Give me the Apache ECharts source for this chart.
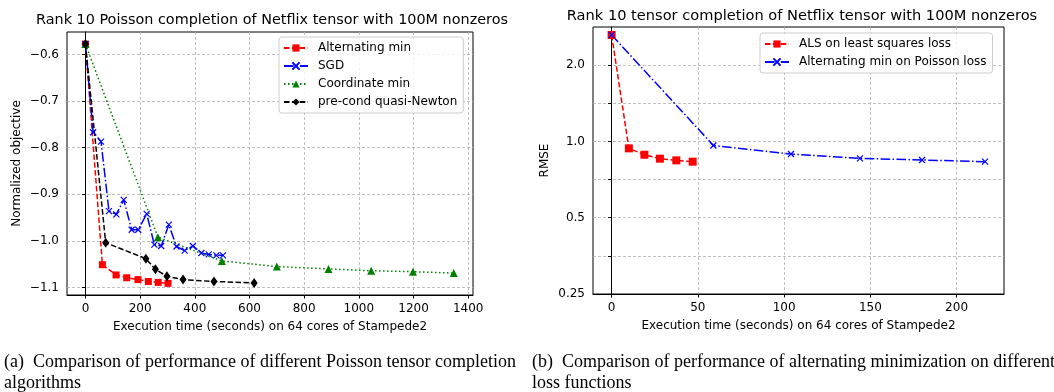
<!DOCTYPE html>
<html>
<head>
<meta charset="utf-8">
<script src="https://cdn.jsdelivr.net/npm/echarts@6/dist/echarts.min.js"></script>
<style>
  html, body { margin: 0; padding: 0; background: #fff; }
  #chart { width: 1054px; height: 392px; }
</style>
</head>
<body>
<div id="chart"></div>
<script>
// (a) Poisson completion, normalized objective vs time
var altMinX = [0, 62, 112, 151, 192, 230, 266, 302];
var altMinY = [-0.578, -1.051, -1.073, -1.079, -1.083, -1.087, -1.089, -1.091];
var sgdX = [0, 28, 57, 86, 113, 140, 169, 193, 224, 252, 277, 305, 333, 363, 393, 424, 451, 479, 503];
var sgdY = [-0.578, -0.767, -0.787, -0.936, -0.943, -0.912, -0.976, -0.976, -0.942, -1.008, -1.011, -0.965, -1.012, -1.021, -1.011, -1.026, -1.029, -1.031, -1.031];
var cdX = [0, 265, 499, 700, 889, 1045, 1198, 1347];
var cdY = [-0.578, -0.992, -1.043, -1.055, -1.060, -1.064, -1.066, -1.069];
var pqnX = [0, 74, 221, 256, 298, 357, 470, 617];
var pqnY = [-0.578, -1.004, -1.038, -1.061, -1.076, -1.083, -1.087, -1.090];

// (b) RMSE vs time
var alsX = [0, 10, 19, 28, 37.5, 47];
var alsY = [2.63, 0.939, 0.886, 0.855, 0.842, 0.832];
var poisX = [0, 59, 104, 144, 180, 216.5];
var poisY = [2.63, 0.964, 0.892, 0.857, 0.845, 0.832];

function pairs(xs, ys) {
  return xs.map(function (x, i) { return [x, ys[i]]; });
}

var FONT = "DejaVu Sans";
var crossSym = "path://M0,0L10,10M10,0L0,10";
var dashed = [5.5, 2.4];
var dashDot = [9.6, 2.4, 1.5, 2.4];
var dotted = [1.5, 2.5];

function axisBase() {
  return {
    axisLine: { show: true, lineStyle: { color: "#000", width: 1 } },
    axisTick: { show: true, length: 3.5, lineStyle: { color: "#000", width: 1 } },
    axisLabel: { color: "#000", fontFamily: FONT, fontSize: 12, showMinLabel: false, showMaxLabel: false,
      formatter: function (v) { return String(Math.round(v * 1000) / 1000); } },
    splitLine: { show: true, showMinLine: false, showMaxLine: false, lineStyle: { color: "#b0b0b0", type: [3, 2], width: 0.8 } },
    nameTextStyle: { color: "#000", fontFamily: FONT, fontSize: 12 },
    nameLocation: "middle"
  };
}

var xA = Object.assign(axisBase(), {
  type: "value", gridIndex: 0, min: -67.5, max: 1417.5, splitNumber: 7,
  name: "Execution time (seconds) on 64 cores of Stampede2", nameGap: 26
});
var yA = Object.assign(axisBase(), {
  type: "value", gridIndex: 0, min: -1.116, max: -0.552, splitNumber: 5,
  name: "Normalized objective", nameGap: 44
});
yA.axisLabel = Object.assign({}, yA.axisLabel, {
  formatter: function (v) { return v.toFixed(1).replace("-", "\u2212"); }
});
var xB = Object.assign(axisBase(), {
  type: "value", gridIndex: 1, min: -10.8, max: 227.5, splitNumber: 5,
  name: "Execution time (seconds) on 64 cores of Stampede2", nameGap: 26
});
var yB = Object.assign(axisBase(), {
  type: "log", gridIndex: 1, logBase: Math.SQRT2, min: 0.25, max: 2 * Math.SQRT2, splitNumber: 7,
  name: "RMSE", nameGap: 42
});
yB.axisLabel = Object.assign({}, yB.axisLabel, {
  showMinLabel: true,
  formatter: function (v) {
    var l = Math.log2(v);
    if (Math.abs(l - Math.round(l)) > 1e-6) return "";
    var r = Math.pow(2, Math.round(l));
    return r >= 0.5 ? r.toFixed(1) : r.toFixed(2);
  }
});

var legendText = { color: "#000", fontFamily: FONT, fontSize: 12, padding: [0, 0, 0, 5], lineHeight: 14 };

var myChart = echarts.init(document.getElementById("chart"), null, { renderer: "canvas" });
var option = {
  animation: false,
  backgroundColor: "#fff",
  title: [
    { text: "Rank 10 Poisson completion of Netflix tensor with 100M nonzeros", left: 267, top: 8, textAlign: "center",
      textStyle: { fontFamily: FONT, fontSize: 14.4, fontWeight: "normal", color: "#000" } },
    { text: "Rank 10 tensor completion of Netflix tensor with 100M nonzeros", left: 797, top: 4, textAlign: "center",
      textStyle: { fontFamily: FONT, fontSize: 14.6, fontWeight: "normal", color: "#000" } }
  ],
  grid: [
    { left: 67, top: 32, width: 406, height: 263, show: true, borderColor: "#000", borderWidth: 1, backgroundColor: "transparent" },
    { left: 593, top: 27, width: 411, height: 267, show: true, borderColor: "#000", borderWidth: 1, backgroundColor: "transparent" }
  ],
  xAxis: [xA, xB],
  yAxis: [yA, yB],
  legend: [
    { orient: "vertical", left: 279, top: 37, itemWidth: 24, itemHeight: 9, itemGap: 4,
      padding: [4, 6, 4, 4], backgroundColor: "rgba(255,255,255,0.8)", borderColor: "#ccc", borderWidth: 1, borderRadius: 3,
      textStyle: legendText,
      data: ["Alternating min", "SGD", "Coordinate min", "pre-cond quasi-Newton"] },
    { orient: "vertical", left: 760, top: 33, itemWidth: 24, itemHeight: 9, itemGap: 4,
      padding: [4, 6, 4, 4], backgroundColor: "rgba(255,255,255,0.8)", borderColor: "#ccc", borderWidth: 1, borderRadius: 3,
      textStyle: legendText,
      data: ["ALS on least squares loss", "Alternating min on Poisson loss"] }
  ],
  series: [
    { name: "Alternating min", type: "line", xAxisIndex: 0, yAxisIndex: 0, data: pairs(altMinX, altMinY),
      symbol: "rect", symbolSize: 7, itemStyle: { color: "#ff0000" },
      lineStyle: { color: "#ff0000", width: 1.5, type: dashed } },
    { name: "SGD", type: "line", xAxisIndex: 0, yAxisIndex: 0, data: pairs(sgdX, sgdY),
      symbol: crossSym, symbolSize: 6, itemStyle: { color: "#0000ff", borderColor: "#0000ff", borderWidth: 1.2 },
      lineStyle: { color: "#0000ff", width: 1.5, type: dashDot } },
    { name: "Coordinate min", type: "line", xAxisIndex: 0, yAxisIndex: 0, data: pairs(cdX, cdY),
      symbol: "triangle", symbolSize: 8, itemStyle: { color: "#008000" },
      lineStyle: { color: "#008000", width: 1.5, type: dotted } },
    { name: "pre-cond quasi-Newton", type: "line", xAxisIndex: 0, yAxisIndex: 0, data: pairs(pqnX, pqnY),
      symbol: "diamond", symbolSize: [7, 10], itemStyle: { color: "#000" },
      lineStyle: { color: "#000", width: 1.5, type: dashed } },
    { name: "ALS on least squares loss", type: "line", xAxisIndex: 1, yAxisIndex: 1, data: pairs(alsX, alsY),
      symbol: "rect", symbolSize: 8, itemStyle: { color: "#ff0000" },
      lineStyle: { color: "#ff0000", width: 1.5, type: dashed } },
    { name: "Alternating min on Poisson loss", type: "line", xAxisIndex: 1, yAxisIndex: 1, data: pairs(poisX, poisY),
      symbol: crossSym, symbolSize: 6, itemStyle: { color: "#0000ff", borderColor: "#0000ff", borderWidth: 1.2 },
      lineStyle: { color: "#0000ff", width: 1.5, type: dashDot } }
  ],
  graphic: [
    { type: "text", left: 4, top: 352,
      style: { text: "(a)  Comparison of performance of different Poisson tensor completion\nalgorithms",
        font: "18px 'Liberation Serif'", fill: "#000", lineHeight: 21 } },
    { type: "text", left: 532, top: 352,
      style: { text: "(b)  Comparison of performance of alternating minimization on different\nloss functions",
        font: "18px 'Liberation Serif'", fill: "#000", lineHeight: 21 } }
  ]
};
myChart.setOption(option);
</script>
</body>
</html>
